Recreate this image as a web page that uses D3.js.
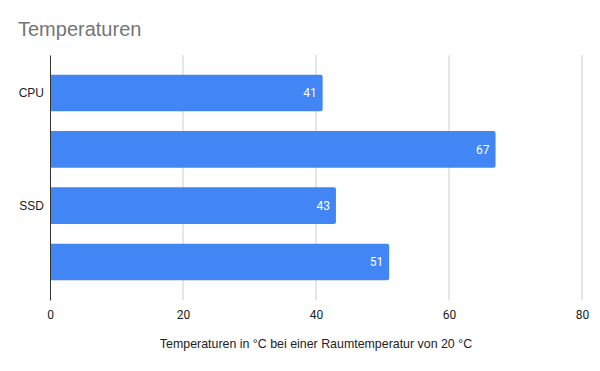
<!DOCTYPE html>
<html>
<head>
<meta charset="utf-8">
<script src="https://cdn.jsdelivr.net/npm/d3@7"></script>
<style>
  body { margin: 0; background: #fff; }
  text { font-family: "Liberation Sans", Arial, sans-serif; }
</style>
</head>
<body>
<script>
// data
var categories = ["CPU", "", "SSD", ""]
var values = [41, 67, 43, 51]
var xTicks = [0, 20, 40, 60, 80]
var title = "Temperaturen"
var xTitle = "Temperaturen in °C bei einer Raumtemperatur von 20 °C"

var width = 600, height = 371
var margin = { top: 55, right: 18, bottom: 71, left: 50 }

var d = d3.select('body')
    .append("svg")
    .attr("width", width)
    .attr("height", height)

var rows = categories.map(function (c, i) { return { key: i, label: c, value: values[i] } })

var x = d3.scaleLinear()
    .domain([0, 80])
    .range([margin.left, width - margin.right])

var y = d3.scaleBand()
    .domain(rows.map(function (r) { return r.key }))
    .range([margin.top, height - margin.bottom])
    .padding(0.35)

// gridlines
d.append("g")
    .selectAll("line")
    .data(xTicks.slice(1))
    .join("line")
    .attr("x1", function (t) { return x(t) })
    .attr("x2", function (t) { return x(t) })
    .attr("y1", margin.top)
    .attr("y2", height - margin.bottom)
    .attr("stroke", "#cccccc")
    .attr("stroke-width", 1)

// bars, rounded only at the right end
var r = 2
d.append("g")
    .selectAll("path")
    .data(rows)
    .join("path")
    .attr("fill", "#4285f4")
    .attr("d", function (row) {
        var x0 = x(0), x1 = x(row.value), y0 = y(row.key), h = y.bandwidth()
        return `M${x0},${y0}H${x1 - r}Q${x1},${y0} ${x1},${y0 + r}` +
            `V${y0 + h - r}Q${x1},${y0 + h} ${x1 - r},${y0 + h}H${x0}Z`
    })

// value labels
d.append("g")
    .selectAll("text")
    .data(rows)
    .join("text")
    .attr("x", function (row) { return x(row.value) - 6 })
    .attr("y", function (row) { return y(row.key) + y.bandwidth() / 2 })
    .attr("dy", "0.35em")
    .attr("text-anchor", "end")
    .attr("fill", "#ffffff")
    .style("font-family", "Roboto, sans-serif")
    .style("font-size", "12px")
    .text(function (row) { return row.value })

// x axis
var xAxis = d.append("g")
    .attr("transform", `translate(0,${height - margin.bottom})`)
    .call(d3.axisBottom(x).tickValues(xTicks).tickSize(0).tickPadding(10))
xAxis.select(".domain").remove()
xAxis.selectAll("text")
    .attr("fill", "#222222")
    .style("font-size", "12px")
    .style("font-family", "Roboto, sans-serif")

// y axis
var yAxis = d.append("g")
    .attr("transform", `translate(${margin.left},0)`)
    .call(d3.axisLeft(y).tickSize(0).tickPadding(6)
        .tickFormat(function (k) { return categories[k] }))
yAxis.select(".domain")
    .attr("stroke", "#333333")
    .attr("stroke-width", 1)
yAxis.selectAll("text")
    .attr("fill", "#222222")
    .style("font-size", "12px")

// titles
d.append("text")
    .attr("x", 18)
    .attr("y", 36)
    .attr("fill", "#757575")
    .style("font-size", "20px")
    .text(title)

d.append("text")
    .attr("x", (x(0) + x(80)) / 2)
    .attr("y", 348)
    .attr("text-anchor", "middle")
    .attr("fill", "#222222")
    .style("font-size", "12.4px")
    .text(xTitle)
</script>
</body>
</html>
